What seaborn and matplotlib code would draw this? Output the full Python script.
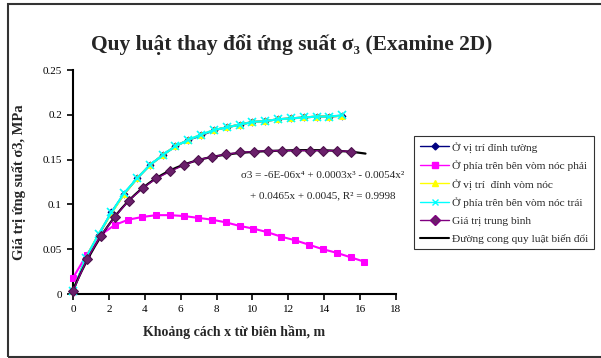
import numpy as np
import pandas as pd
import matplotlib
matplotlib.use("Agg")
import matplotlib.pyplot as plt
import seaborn as sns
from matplotlib.lines import Line2D
from matplotlib.patches import Rectangle

# ---------------- data ----------------
x_top = [0, 0.71, 1.43, 2.14, 2.86, 3.57, 4.29, 5.0, 5.71, 6.43, 7.14,
         7.86, 8.57, 9.29, 10.0, 10.71, 11.43, 12.14, 12.86, 13.57, 14.29, 15.0]
y_wall = [0.003, 0.040, 0.066, 0.091, 0.112, 0.129, 0.144, 0.155, 0.165, 0.172, 0.177,
          0.183, 0.186, 0.189, 0.192, 0.193, 0.195, 0.196, 0.197, 0.198, 0.198, 0.199]
y_crown = [0.003, 0.040, 0.067, 0.090, 0.112, 0.129, 0.144, 0.155, 0.165, 0.172, 0.178,
           0.183, 0.186, 0.189, 0.192, 0.193, 0.195, 0.196, 0.197, 0.198, 0.198, 0.199]
y_left = [0.003, 0.040, 0.067, 0.091, 0.113, 0.129, 0.144, 0.155, 0.165, 0.172, 0.178,
          0.183, 0.186, 0.189, 0.192, 0.193, 0.195, 0.196, 0.197, 0.198, 0.198, 0.1995]

x_right = [0, 0.77, 1.55, 2.32, 3.09, 3.87, 4.64, 5.41, 6.19, 6.96, 7.73,
           8.51, 9.28, 10.05, 10.83, 11.6, 12.37, 13.15, 13.92, 14.69, 15.47, 16.24]
y_right = [0.018, 0.044, 0.066, 0.077, 0.083, 0.086, 0.088, 0.088, 0.087, 0.085, 0.083,
           0.080, 0.076, 0.073, 0.069, 0.064, 0.060, 0.055, 0.050, 0.046, 0.041, 0.036]

x_avg = [0, 0.78, 1.55, 2.33, 3.1, 3.88, 4.65, 5.43, 6.2, 6.98, 7.75,
         8.53, 9.3, 10.08, 10.85, 11.63, 12.4, 13.18, 13.95, 14.73, 15.5]
y_avg = [0.003, 0.039, 0.065, 0.086, 0.104, 0.118, 0.129, 0.137, 0.144, 0.150, 0.153,
         0.156, 0.158, 0.159, 0.160, 0.160, 0.160, 0.160, 0.160, 0.160, 0.159]

trend_end = 16.3

labels = ["Ở vị trí đỉnh tường", "Ở phía trên bên vòm nóc phải", "Ở vị trí  đỉnh vòm nóc",
          "Ở phía trên bên vòm nóc trái", "Giá trị trung bình", "Đường cong quy luật biến đổi"]
title = "Quy luật thay đổi ứng suất σ₃ (Examine 2D)"
xlabel = "Khoảng cách x từ biên hầm, m"
ylabel = "Giá trị ứng suất σ3, MPa"
eq1 = "σ3 = -6E-06x⁴ + 0.0003x³ - 0.0054x²"
eq2 = "+ 0.0465x + 0.0045, R² = 0.9998"
xticks = [0, 2, 4, 6, 8, 10, 12, 14, 16, 18]
yticks = [0, 0.05, 0.1, 0.15, 0.2, 0.25]
ytick_labels = ["0", "0.05", "0.1", "0.15", "0.2", "0.25"]

# ---------------- style ----------------
sns.set_theme(style="white")
plt.rcParams['font.family'] = ['Liberation Serif', 'DejaVu Serif']

fig = plt.figure(figsize=(6.01, 3.58), dpi=100)
ax = fig.add_axes([73/601, 1-294/358, (396-73)/601, (294-70)/358])

c_wall, c_right, c_crown, c_left, c_avg = "#000080", "#FF00FF", "#FFFF00", "#00FFFF", "#800080"

def draw(x, y, color, marker, ms, mfc, mec, z, lw=1.5):
    df = pd.DataFrame({"x": x, "y": y})
    sns.lineplot(data=df, x="x", y="y", ax=ax, color=color, marker=marker, markersize=ms,
                 markerfacecolor=mfc, markeredgecolor=mec, linewidth=lw, zorder=z,
                 sort=False, estimator=None)

draw(x_top, y_wall, c_wall, "D", 3.5, c_wall, c_wall, 3)
draw(x_right, y_right, c_right, "s", 4, c_right, c_right, 3)
draw(x_top, y_crown, c_crown, "^", 5, c_crown, c_crown, 4)
draw(x_top, y_left, c_left, "x", 6, c_left, c_left, 5)
ax.lines[-1].set_markeredgewidth(1.2)

# trend line fitted from the average data
coef = np.polyfit(x_avg, y_avg, 4)
xt = np.linspace(0, trend_end, 200)
trend = pd.DataFrame({"x": xt, "y": np.polyval(coef, xt)})
draw(x_avg, y_avg, c_avg, "D", 5.5, "#6a1f6a", "#4a104a", 6, lw=1.0)
sns.lineplot(data=trend, x="x", y="y", ax=ax, color="black", linewidth=1.6, zorder=5.5,
             sort=False, estimator=None)

ax.set_xlim(0, 18)
ax.set_ylim(0, 0.25)
ax.set_xticks(xticks)
ax.set_xticklabels([str(t) for t in xticks])
ax.set_yticks(yticks)
ax.set_yticklabels(ytick_labels)
ax.tick_params(direction="out", length=4, width=1.2, colors="black", labelsize=8,
               bottom=True, left=True, pad=4)
for s in ["top", "right"]:
    ax.spines[s].set_visible(False)
for s in ["left", "bottom"]:
    ax.spines[s].set_color("black")
    ax.spines[s].set_linewidth(1.5)
ax.grid(False)
for l in ax.lines:
    l.set_clip_on(False)

ax.set_xlabel(xlabel, fontsize=10, fontweight="bold", labelpad=8)
ax.set_ylabel(ylabel, fontsize=10.5, fontweight="bold", labelpad=12)

fig.text(292/601, 1-45/358, title, ha="center", va="center", fontsize=15.5, fontweight="bold")
fig.text(323/601, 1-176/358, eq1, ha="center", va="center", fontsize=8)
fig.text(323/601, 1-196/358, eq2, ha="center", va="center", fontsize=8)

handles = [
    Line2D([], [], color=c_wall, marker="D", markersize=3.5, lw=1),
    Line2D([], [], color=c_right, marker="s", markersize=4, lw=1),
    Line2D([], [], color=c_crown, marker="^", markersize=5, lw=1),
    Line2D([], [], color=c_left, marker="x", markersize=5, lw=1),
    Line2D([], [], color=c_avg, marker="D", markersize=5, markerfacecolor="#6a1f6a", lw=1),
    Line2D([], [], color="black", lw=1.5),
]
leg = fig.legend(handles, labels, loc="upper left", bbox_to_anchor=(414/601, 1-136/358),
                 fontsize=8.2, frameon=True, fancybox=False, handlelength=2.6,
                 handletextpad=0.2, borderpad=0.5, labelspacing=0.68, borderaxespad=0)
leg.get_frame().set_edgecolor("black")
leg.get_frame().set_linewidth(0.8)

fig.patches.append(Rectangle((7.5/601, 1-357/358), 1.2, (357-4)/358, transform=fig.transFigure,
                             fill=False, edgecolor="#333333", linewidth=1.5, zorder=0))

fig.savefig("out.png", dpi=100)
